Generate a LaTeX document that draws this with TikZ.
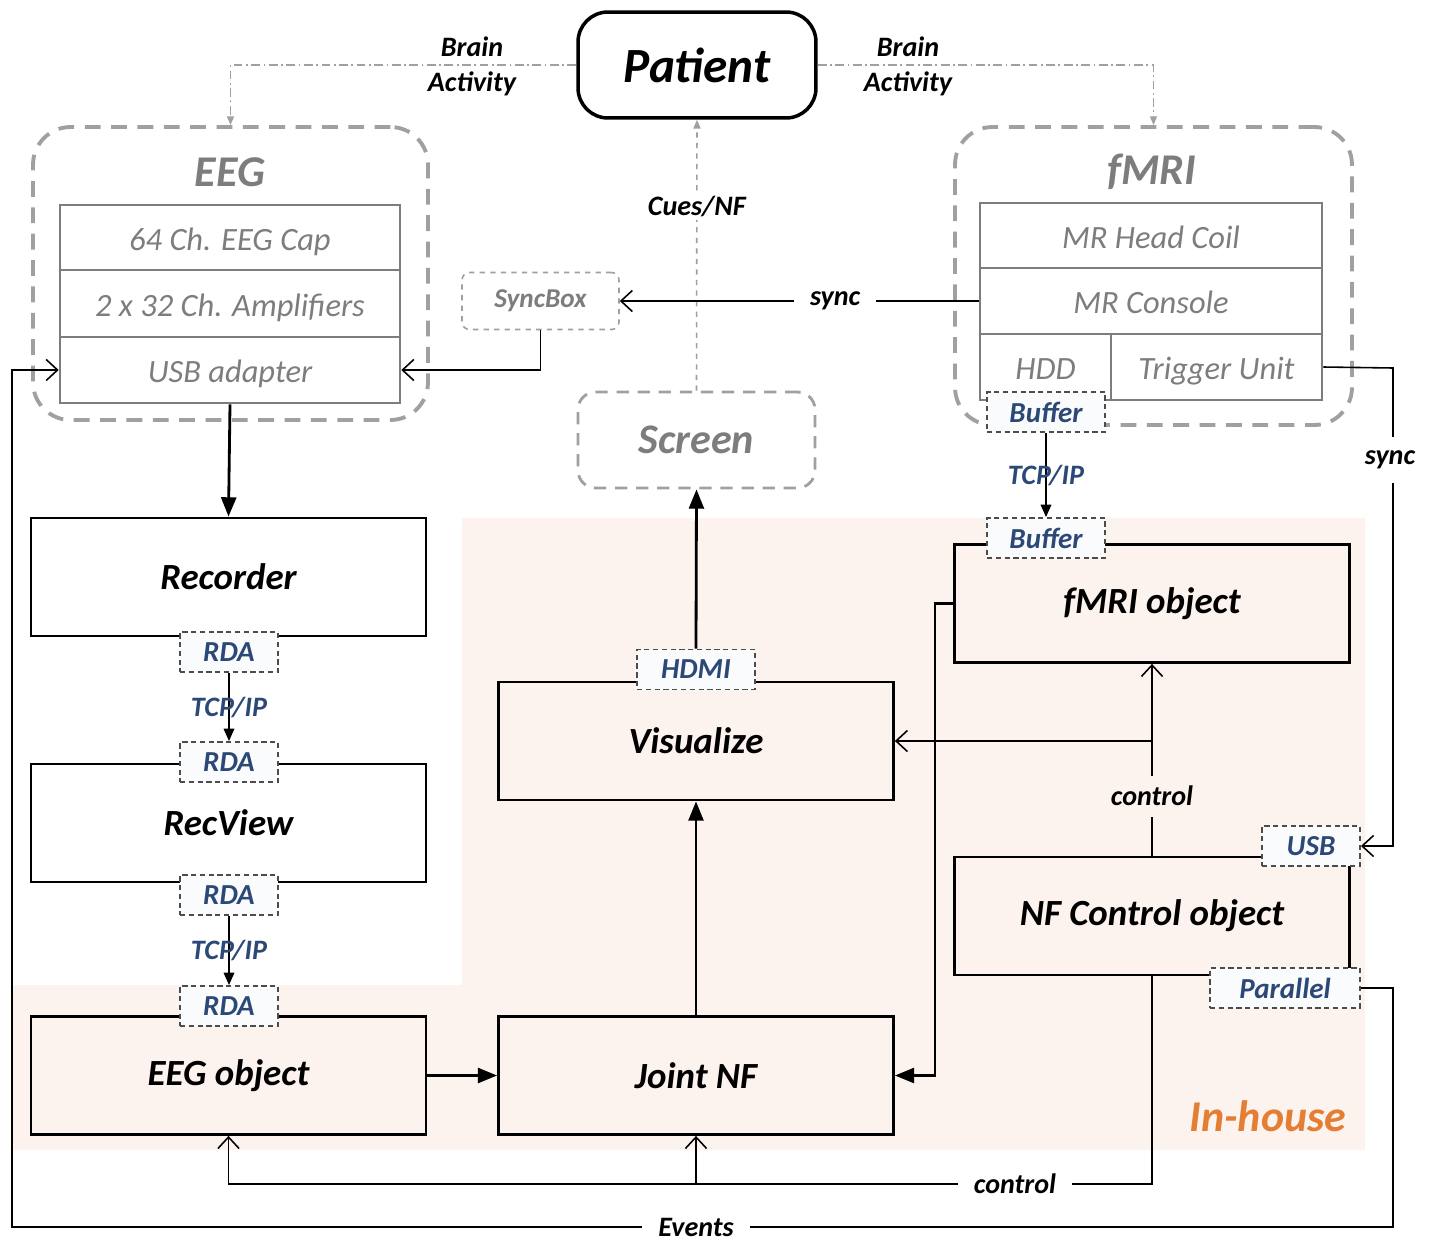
\documentclass[tikz,border=0pt]{standalone}
\usepackage{fontspec}
\setmainfont{Carlito}
\usetikzlibrary{arrows.meta}
\definecolor{inhouse}{RGB}{253,243,238}
\definecolor{hwgray}{RGB}{125,125,125}
\definecolor{grpgray}{RGB}{160,160,160}
\definecolor{portblue}{RGB}{44,72,118}
\definecolor{orangetxt}{RGB}{228,126,52}
\tikzset{
  bi/.style={font=\bfseries\itshape\fontsize{#1}{#1}\selectfont},
  mainbox/.style={draw, line width=1.6pt, fill=white, minimum width=7.9cm, minimum height=2.36cm, inner sep=0pt, bi=21},
  hwbox/.style={draw=hwgray, line width=1.5pt, text=hwgray, minimum height=1.32cm, inner sep=0pt, text height=16.5pt, text depth=2pt, font=\itshape\fontsize{18.5}{18.5}\selectfont},
  grpbox/.style={draw=grpgray, line width=2.2pt, dash pattern=on 9pt off 6pt, rounded corners=0.75cm},
  port/.style={draw=black!70, line width=1.1pt, densely dashed, fill={rgb,255:red,250;green,251;blue,253}, text=portblue, minimum width=1.96cm, minimum height=0.8cm, inner sep=0pt, bi=16.5},
  lbl/.style={bi=16, inner sep=2pt},
  gap/.style={fill=white, inner xsep=9pt},
  thick arrow/.style={line width=1.6pt, -{Triangle[length=11pt,width=8.5pt]}},
  tcp arrow/.style={line width=0.9pt, -{Triangle[length=7pt,width=6pt]}},
  open arrow/.style={line width=0.9pt, -{Straight Barb[length=6.5pt,width=12pt]}},
  brain/.style={draw=grpgray, line width=0.9pt, dash pattern=on 5pt off 2pt on 1pt off 2pt, -{Triangle[length=5pt,width=4pt]}}
}
\begin{document}
\begin{tikzpicture}[x=0.02cm, y=-0.02cm]
    \useasboundingbox (0,0) rectangle (1431,1241);
    \fill[inhouse] (462,518) -- (1365,518) -- (1365,1150) -- (12,1150) -- (12,985) -- (462,985) -- cycle;
    \node[bi=25, text=orangetxt] (inh) at (1268,1116) {In-house};

    \node[draw, line width=2pt, rounded corners=0.6cm, minimum width=4.76cm, minimum height=2.12cm, bi=28] (patient) at (697,65) {Patient};

    \node[grpbox, minimum width=7.9cm, minimum height=5.86cm] (eeg) at (230.5,273.5) {};
    \node[bi=25, text=hwgray] (eegt) at (230,172) {EEG};
    \node[hwbox, minimum width=6.8cm, minimum height=1.3cm] (cap) at (230,237.5) {64 Ch. EEG Cap};
    \node[hwbox, minimum width=6.8cm, minimum height=1.34cm] (amp) at (230,303.5) {2 x 32 Ch. Amplifiers};
    \node[hwbox, minimum width=6.8cm] (usbad) at (230,370) {USB adapter};

    \node[grpbox, minimum width=7.94cm, minimum height=5.96cm] (fmri) at (1153.5,276) {};
    \node[bi=25, text=hwgray] (fmrit) at (1152,172) {fMRI};
    \node[hwbox, minimum width=6.84cm, minimum height=1.3cm] (coil) at (1151,235.5) {MR Head Coil};
    \node[hwbox, minimum width=6.84cm] (console) at (1151,301) {MR Console};
    \node[hwbox, minimum width=2.62cm] (hdd) at (1045.5,367) {HDD};
    \node[hwbox, minimum width=4.22cm] (trig) at (1216.5,367) {Trigger Unit};

    \node[draw=grpgray, line width=0.9pt, dashed, rounded corners=0.15cm, fill=white, minimum width=3.14cm, minimum height=1.14cm, text=hwgray, bi=15.5] (syncbox) at (540.5,301) {SyncBox};
    \node[draw=grpgray, line width=1.6pt, dash pattern=on 7pt off 5pt, rounded corners=0.35cm, fill=white, minimum width=4.74cm, minimum height=1.92cm, text=hwgray, bi=24] (screen) at (696.5,440) {Screen};

    \node[mainbox] (rec) at (228.5,577) {Recorder};
    \node[mainbox] (recview) at (228.5,823) {RecView};
    \node[mainbox, fill=inhouse] (eegobj) at (228.5,1075.5) {EEG object};
    \node[mainbox, fill=inhouse] (joint) at (696,1075.5) {Joint NF};
    \node[mainbox, fill=inhouse] (vis) at (696,741) {Visualize};
    \node[mainbox, fill=inhouse] (fmriobj) at (1152,603.5) {fMRI object};
    \node[mainbox, fill=inhouse] (nfctrl) at (1152,916) {NF Control object};

    \node[port] (rda1) at (229,652) {RDA};
    \node[port] (rda2) at (229,762) {RDA};
    \node[port] (rda3) at (229,895) {RDA};
    \node[port] (rda4) at (229,1006) {RDA};
    \node[port, minimum width=2.36cm] (hdmi) at (696,669.5) {HDMI};
    \node[port, minimum width=2.36cm] (buf1) at (1046,412) {Buffer};
    \node[port, minimum width=2.36cm] (buf2) at (1046,538) {Buffer};
    \node[port] (usb) at (1311,846) {USB};
    \node[port, minimum width=3cm] (par) at (1285,988) {Parallel};

    \draw[brain] (patient.west) -| (eeg.north);
    \draw[brain] (patient.east) -| (fmri.north);
    \node[lbl, align=center] (ba1) at (472,66) {Brain\\[4pt]Activity};
    \node[lbl, align=center] (ba2) at (908,66) {Brain\\[4pt]Activity};
    \draw[draw=grpgray, line width=0.9pt, dashed, -{Triangle[length=5pt,width=4pt]}] (screen.north) -- (patient.south) node[lbl, pos=0.68, fill=white] {Cues/NF};

    \draw[open arrow] (console.west) -- (syncbox.east) node[lbl, gap, pos=0.4] {sync};
    \draw[open arrow] (syncbox.south) |- (usbad.east);
    \draw[thick arrow] (usbad.south) -- (rec.north);

    \draw[tcp arrow] (rda1) -- (rda2) node[lbl, midway, text=portblue] {TCP/IP};
    \draw[tcp arrow] (rda3) -- (rda4) node[lbl, midway, text=portblue] {TCP/IP};
    \draw[tcp arrow] (buf1) -- (buf2) node[lbl, midway, text=portblue] {TCP/IP};

    \draw[thick arrow] (eegobj.east) -- (joint.west);
    \draw[thick arrow] (joint.north) -- (vis.south);
    \draw[thick arrow] (hdmi.north) -- (screen.south);
    \coordinate (fbend) at (935,603.5);
    \draw[thick arrow] (fmriobj.west) -- (fbend) |- (joint.east);

    \draw[open arrow] (nfctrl.north) -- (fmriobj.south) node[lbl, pos=0.31, fill=inhouse, inner ysep=6pt] {control};
    \coordinate (cbranch) at (1152,741);
    \draw[open arrow] (cbranch) -- (vis.east);
    \coordinate (cdown) at (1152,1184);
    \coordinate (jdown) at (696,1184);
    \draw[open arrow] (nfctrl.south) -- (cdown) -| (eegobj.south);
    \draw[open arrow] (jdown) -- (joint.south);
    \node[lbl, gap] (ctl2) at (1015,1184) {control};

    \coordinate (trigr) at (1393,368);
    \draw[open arrow] (trig.east) -- (trigr) |- (usb.east);
    \node[lbl, fill=white, inner ysep=8pt] (sync2) at (1390,460) {sync};

    \coordinate (evr) at (1393,1227);
    \coordinate (evl) at (12,1227);
    \draw[open arrow] (par.east) -| (evr) -- (evl) |- (usbad.west);
    \node[lbl, gap, inner ysep=0.5pt] (events) at (696,1227) {Events};
\end{tikzpicture}
\end{document}
